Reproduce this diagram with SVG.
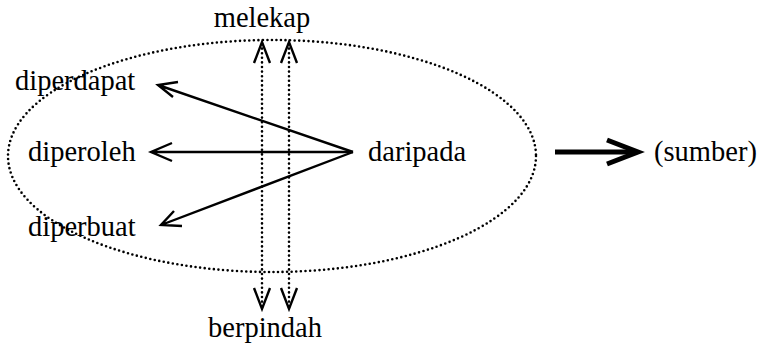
<svg xmlns="http://www.w3.org/2000/svg" width="761" height="346" viewBox="0 0 761 346">
<style>
text{font-family:"Liberation Serif","Times New Roman",serif;font-size:28.5px;fill:#000}
.ln{stroke:#000;stroke-width:2.4;fill:none}
.dot{stroke:#000;stroke-width:2.6;fill:none;stroke-dasharray:0 4.6;stroke-linecap:round}
</style>
<rect width="761" height="346" fill="#fff"/>
<g id="ellipse"><ellipse class="dot" cx="272" cy="156" rx="264" ry="116"/></g>
<g id="melekap"><text x="262" y="27" text-anchor="middle">melekap</text></g>
<g id="berpindah"><text x="265" y="337" text-anchor="middle">berpindah</text></g>
<g id="diperdapat"><text x="15" y="90">diperdapat</text></g>
<g id="diperoleh"><text x="28" y="161">diperoleh</text></g>
<g id="diperbuat"><text x="28" y="236">diperbuat</text></g>
<g id="daripada"><text x="368" y="161">daripada</text></g>
<g id="sumber"><text x="654" y="161">(sumber)</text></g>
<g id="connectors">
<path class="ln" d="M353 152 L158 85 M178 82 L158 85 L173 97"/>
<path class="ln" d="M353 152 L151 152 M172 143 L151 152 L172 161"/>
<path class="ln" d="M353 152 L161 225 M174 211 L161 225 L182 226"/>
<path class="dot" d="M262 44 V308 M289 44 V308"/>
<path class="ln" d="M254 63 L262 42 L270 63 M281 63 L289 42 L297 63"/>
<path class="ln" d="M254 288 L262 309 L270 288 M281 288 L289 309 L297 288"/>
<path d="M555 152 H632" stroke="#000" stroke-width="5" fill="none"/>
<path d="M607 140 L638 152 L607 164" stroke="#000" stroke-width="5" fill="none"/>
</g>
</svg>
